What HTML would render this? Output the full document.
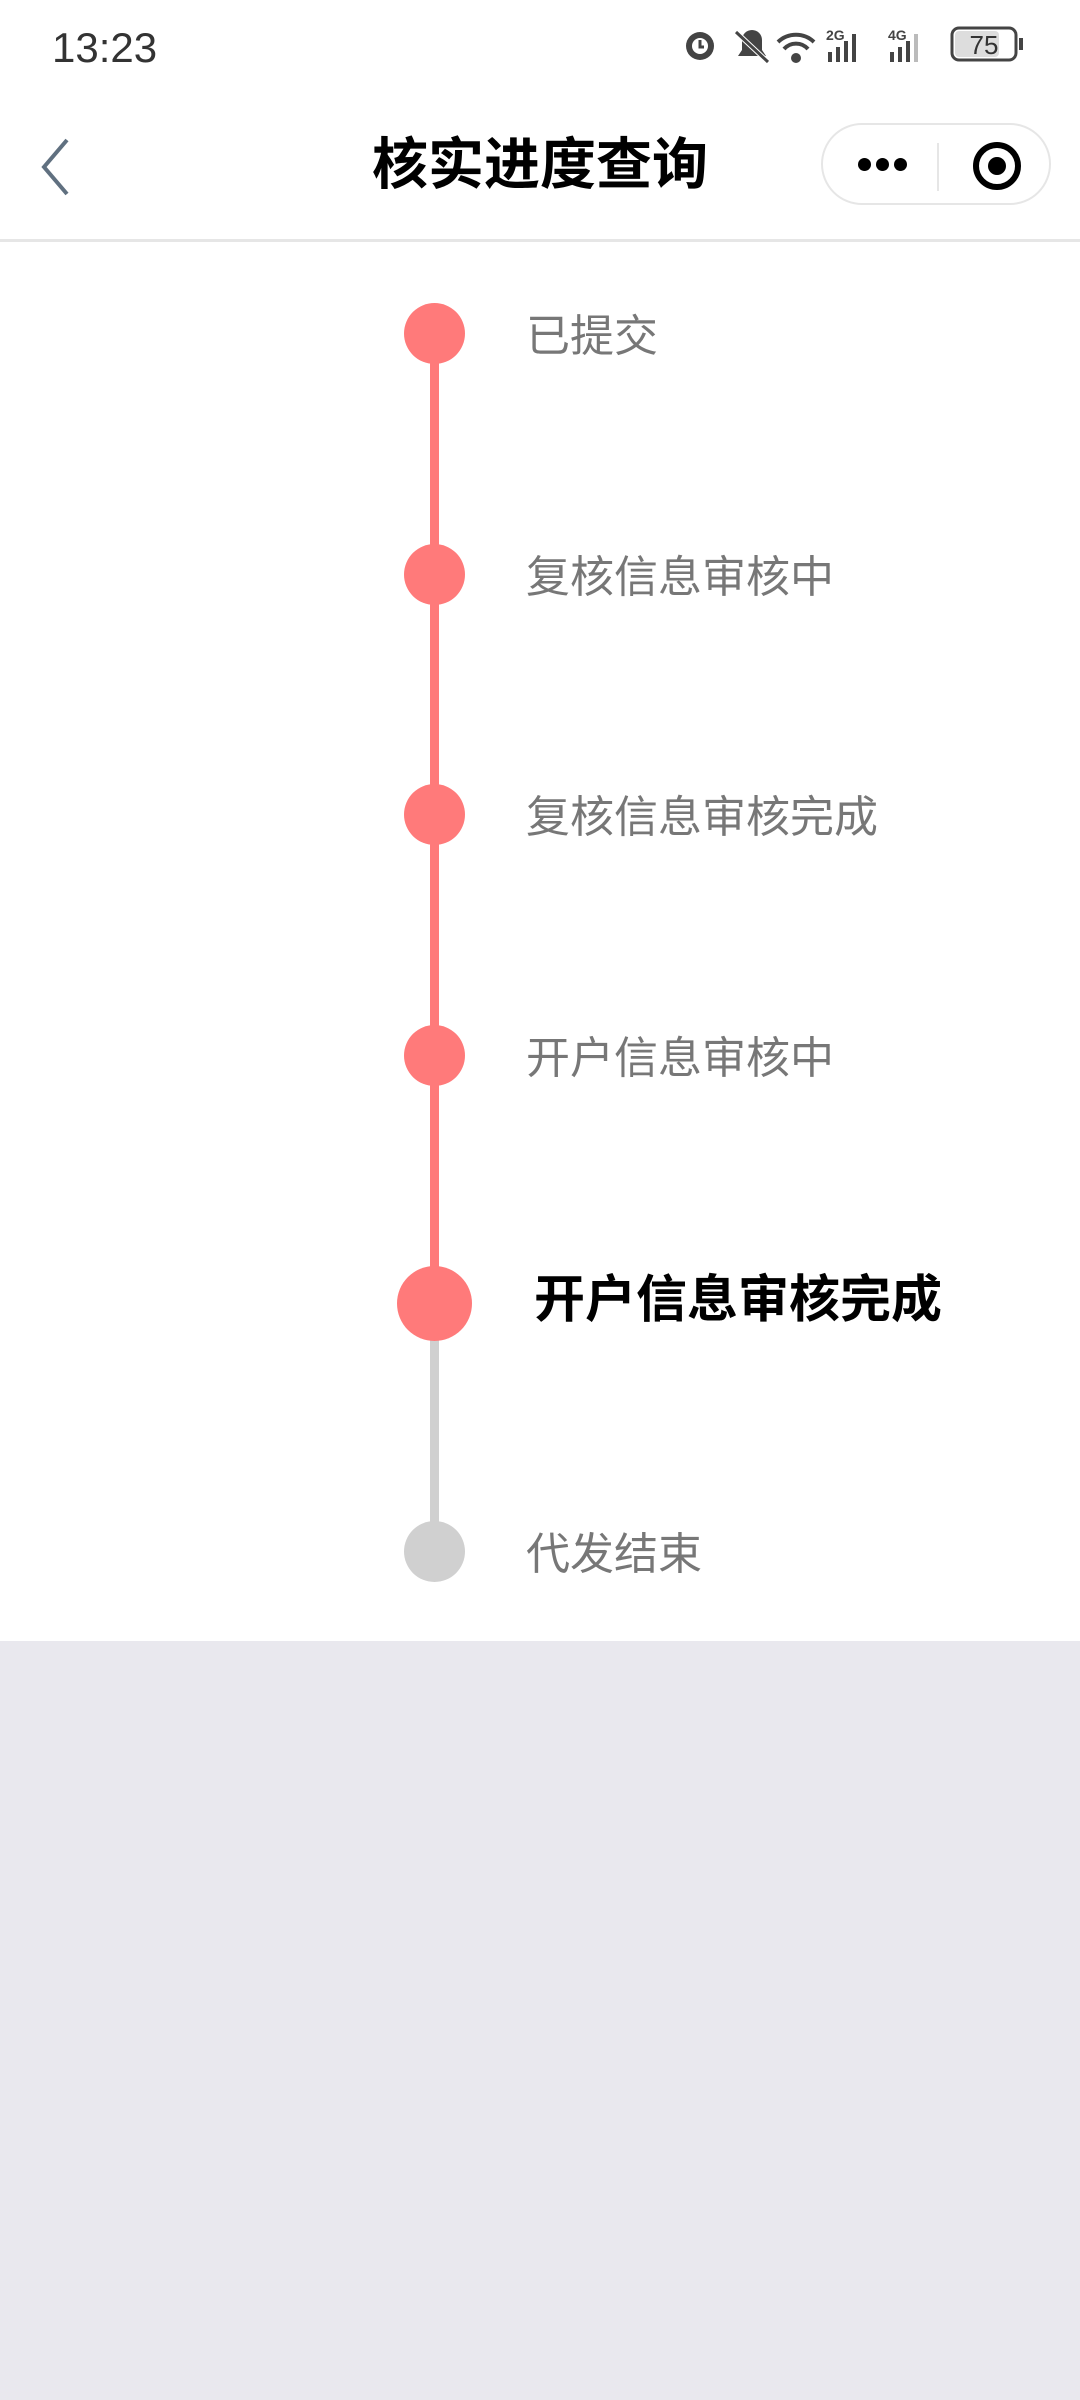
<!DOCTYPE html>
<html><head><meta charset="utf-8"><style>
html,body{margin:0;padding:0;}
body{width:1080px;height:2400px;background:#e9e8ee;position:relative;overflow:hidden;font-family:"Liberation Sans","Noto Sans CJK SC",sans-serif;}
.white{position:absolute;left:0;top:0;width:1080px;height:1641px;background:#fff;}
.abs{position:absolute;}
.time{left:52px;top:24px;font-size:42px;color:#333;}
.title{left:0;width:1080px;top:130px;text-align:center;font-size:56px;font-weight:bold;color:#000;line-height:70px;}
.hline{left:0;top:239px;width:1080px;height:3px;background:#e6e6e6;}
.cap{left:821px;top:123px;width:230px;height:82px;border:2px solid #e6e6e6;border-radius:44px;box-sizing:border-box;}
.dot{border-radius:50%;}
.line{width:9px;left:430px;}
.lbl{left:526px;font-size:44px;color:#777;line-height:60px;}
</style></head><body>
<div class="white"></div>
<div class="abs time">13:23</div>
<svg class="abs" style="left:678px;top:22px" width="350" height="46" viewBox="0 0 350 46">
 <circle cx="22" cy="24" r="14" fill="#444"/><circle cx="22" cy="24" r="8" fill="#fff"/><path d="M22 18v7h4" stroke="#444" stroke-width="3" fill="none"/>
 <path d="M60 34h28l-4-6v-10a10 10 0 0 0-20 0v10z" fill="#444"/><path d="M58 10l32 30" stroke="#fff" stroke-width="5"/><path d="M58 10l32 30" stroke="#444" stroke-width="3"/>
 <path d="M100 20a26 26 0 0 1 36 0" stroke="#444" stroke-width="4" fill="none"/><path d="M106 27a16 16 0 0 1 24 0" stroke="#444" stroke-width="4" fill="none"/><circle cx="118" cy="36" r="5" fill="#444"/>
 <text x="148" y="18" font-size="14" fill="#444" font-family="Liberation Sans" font-weight="bold">2G</text>
 <rect x="150" y="30" width="4" height="10" fill="#444"/><rect x="158" y="25" width="4" height="15" fill="#444"/><rect x="166" y="19" width="4" height="21" fill="#444"/><rect x="174" y="12" width="4" height="28" fill="#444"/>
 <text x="210" y="18" font-size="14" fill="#444" font-family="Liberation Sans" font-weight="bold">4G</text>
 <rect x="212" y="30" width="4" height="10" fill="#444"/><rect x="220" y="25" width="4" height="15" fill="#444"/><rect x="228" y="19" width="4" height="21" fill="#444"/><rect x="236" y="12" width="4" height="28" fill="#bbb"/>
 <rect x="274" y="6" width="64" height="32" rx="7" fill="#fff" stroke="#444" stroke-width="3"/><rect x="277" y="9" width="44" height="26" rx="4" fill="#ddd"/>
 <rect x="341" y="16" width="4" height="12" fill="#444"/>
 <text x="306" y="32" font-size="26" fill="#333" font-family="Liberation Sans" text-anchor="middle">75</text>
</svg>
<svg class="abs" style="left:36px;top:136px" width="40" height="62"><path d="M31 4L8 31l23 27" stroke="#607080" stroke-width="4" fill="none"/></svg>
<div class="abs title">核实进度查询</div>
<div class="abs cap"></div>
<div class="abs dot" style="left:858px;top:158px;width:13px;height:13px;background:#000"></div>
<div class="abs dot" style="left:876px;top:158px;width:13px;height:13px;background:#000"></div>
<div class="abs dot" style="left:894px;top:158px;width:13px;height:13px;background:#000"></div>
<div class="abs" style="left:937px;top:143px;width:2px;height:48px;background:#e6e6e6"></div>
<div class="abs dot" style="left:973px;top:142px;border:6px solid #000;box-sizing:border-box;width:48px;height:48px"></div>
<div class="abs dot" style="left:988px;top:157px;width:18px;height:18px;background:#000"></div>
<div class="abs hline"></div>
<div class="abs line" style="top:333px;height:970px;background:#ff7a7a"></div>
<div class="abs line" style="top:1303px;height:248px;background:#d0d0d0"></div>
<div class="abs dot" style="left:404px;top:303px;width:61px;height:61px;background:#ff7a7a"></div>
<div class="abs dot" style="left:404px;top:544px;width:61px;height:61px;background:#ff7a7a"></div>
<div class="abs dot" style="left:404px;top:784px;width:61px;height:61px;background:#ff7a7a"></div>
<div class="abs dot" style="left:404px;top:1025px;width:61px;height:61px;background:#ff7a7a"></div>
<div class="abs dot" style="left:397px;top:1266px;width:75px;height:75px;background:#ff7a7a"></div>
<div class="abs dot" style="left:404px;top:1521px;width:61px;height:61px;background:#d0d0d0"></div>
<div class="abs lbl" style="top:307px">已提交</div>
<div class="abs lbl" style="top:548px">复核信息审核中</div>
<div class="abs lbl" style="top:788px">复核信息审核完成</div>
<div class="abs lbl" style="top:1029px">开户信息审核中</div>
<div class="abs lbl" style="top:1270px;left:534px;font-size:51px;font-weight:bold;color:#000">开户信息审核完成</div>
<div class="abs lbl" style="top:1525px">代发结束</div>
</body></html>
